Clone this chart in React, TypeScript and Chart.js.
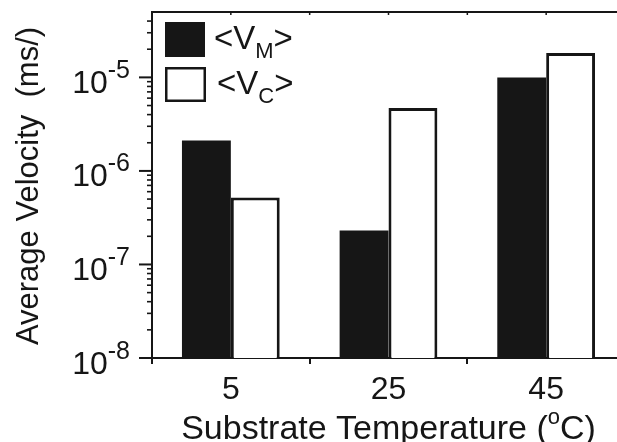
import React, { useEffect, useRef } from "react";
import { Chart, registerables } from "chart.js";

Chart.register(...registerables);

const categories = ["5", "25", "45"];
const vM = [2.12e-6, 2.3e-7, 1.0e-5];
const vC = [5.2e-7, 4.7e-6, 1.82e-5];
const yDecades = [-8, -7, -6, -5];
const yMin = 1e-8;
const yMax = 5e-5;
const xTitle = "Substrate Temperature (";
const yTitle = "Average Velocity  (ms/)";

const INK = "#161616";
const FONT = "'Liberation Sans', Arial, Helvetica, sans-serif";

const drawPlugin = {
  id: "customDraw",
  afterDraw(chart: any) {
    const ctx = chart.ctx as CanvasRenderingContext2D;
    const area = chart.chartArea;
    const xs = chart.scales.x;
    const ys = chart.scales.y;
    ctx.save();
    ctx.strokeStyle = INK;
    ctx.fillStyle = INK;
    ctx.lineWidth = 2;

    // top frame line
    ctx.beginPath();
    ctx.moveTo(area.left - 1, area.top);
    ctx.lineTo(chart.width, area.top);
    ctx.stroke();

    // top small ticks at centres and boundaries
    const half = (xs.getPixelForValue(1) - xs.getPixelForValue(0)) / 2;
    for (let i = 0; i < categories.length; i++) {
      const c = xs.getPixelForValue(i);
      for (const px of [c, c + half]) {
        ctx.beginPath();
        ctx.lineWidth = 1.5;
        ctx.moveTo(px, area.top);
        ctx.lineTo(px, area.top + 3);
        ctx.stroke();
      }
    }

    // y ticks
    ctx.lineWidth = 2;
    for (const e of yDecades) {
      const base = Math.pow(10, e);
      const py = ys.getPixelForValue(base);
      ctx.beginPath();
      ctx.moveTo(area.left - 13, py);
      ctx.lineTo(area.left, py);
      ctx.stroke();
      for (let m = 2; m <= 9; m++) {
        const v = m * base;
        if (v >= yMax) continue;
        const p = ys.getPixelForValue(v);
        ctx.beginPath();
        ctx.lineWidth = 1.6;
        ctx.moveTo(area.left - 5, p);
        ctx.lineTo(area.left, p);
        ctx.stroke();
      }
      ctx.lineWidth = 2;
    }

    // y tick labels
    ctx.textBaseline = "alphabetic";
    for (const e of yDecades) {
      const py = ys.getPixelForValue(Math.pow(10, e));
      const sup = String(e);
      ctx.font = `25px ${FONT}`;
      const ws = ctx.measureText(sup).width;
      ctx.font = `32px ${FONT}`;
      const wm = ctx.measureText("10").width;
      const right = 130;
      ctx.textAlign = "left";
      ctx.fillText("10", right - ws - wm, py + 15.5);
      ctx.font = `25px ${FONT}`;
      ctx.fillText(sup, right - ws, py + 0.5);
    }

    // x tick labels
    ctx.font = `32px ${FONT}`;
    ctx.textAlign = "center";
    for (let i = 0; i < categories.length; i++) {
      ctx.fillText(categories[i], xs.getPixelForValue(i), 399);
    }

    // x title
    {
      ctx.font = `34px ${FONT}`;
      const w1 = ctx.measureText(xTitle).width;
      ctx.font = `22px ${FONT}`;
      const wo = ctx.measureText("o").width;
      ctx.font = `34px ${FONT}`;
      const w2 = ctx.measureText("C)").width;
      const total = w1 + wo + w2;
      const cx = (area.left + area.right) / 2;
      let x0 = cx - total / 2;
      ctx.textAlign = "left";
      ctx.fillText(xTitle, x0, 439);
      x0 += w1;
      ctx.font = `22px ${FONT}`;
      ctx.fillText("o", x0, 424);
      x0 += wo;
      ctx.font = `34px ${FONT}`;
      ctx.fillText("C)", x0, 439);
    }

    // y title
    ctx.save();
    ctx.translate(37.5, 186);
    ctx.rotate(-Math.PI / 2);
    ctx.font = `31px ${FONT}`;
    ctx.textAlign = "center";
    ctx.fillText(yTitle, 0, 0);
    ctx.restore();

    // legend
    ctx.fillStyle = INK;
    ctx.fillRect(165, 22, 40, 35);
    ctx.fillStyle = "#ffffff";
    ctx.fillRect(166, 68, 38, 33);
    ctx.strokeStyle = INK;
    ctx.lineWidth = 2.5;
    ctx.strokeRect(166.25, 68.25, 38.5, 32.5);
    ctx.fillStyle = INK;
    const legendItem = (x: number, base: number, sub: string) => {
      ctx.textAlign = "left";
      ctx.font = `33px ${FONT}`;
      ctx.fillText("<V", x, base);
      let xx = x + ctx.measureText("<V").width;
      ctx.font = `22px ${FONT}`;
      ctx.fillText(sub, xx, base + 9);
      xx += ctx.measureText(sub).width;
      ctx.font = `33px ${FONT}`;
      ctx.fillText(">", xx, base);
    };
    legendItem(214, 49, "M");
    legendItem(217, 94, "C");

    ctx.restore();
  },
};

export default function App() {
  const ref = useRef<HTMLCanvasElement | null>(null);
  useEffect(() => {
    document.body.style.margin = "0";
    const canvas = ref.current!;
    const chart = new Chart(canvas, {
      type: "bar",
      data: {
        labels: categories,
        datasets: [
          {
            label: "<VM>",
            data: vM,
            backgroundColor: INK,
            borderColor: INK,
            borderWidth: 0,
          },
          {
            label: "<VC>",
            data: vC,
            backgroundColor: "#ffffff",
            borderColor: INK,
            borderWidth: 3,
            borderSkipped: "bottom",
          },
        ],
      },
      options: {
        responsive: false,
        animation: false,
        devicePixelRatio: 1,
        layout: { padding: { top: 12, left: 0, right: 0, bottom: 0 } },
        datasets: { bar: { categoryPercentage: 0.62, barPercentage: 1.0 } },
        plugins: {
          legend: { display: false },
          tooltip: { enabled: false },
        },
        scales: {
          x: {
            type: "category",
            offset: true,
            grid: {
              display: true,
              drawOnChartArea: false,
              drawTicks: true,
              tickLength: 6,
              color: INK,
              lineWidth: 2,
              offset: true,
            },
            border: { display: true, color: INK, width: 2 },
            ticks: { display: false },
            afterFit: (s: any) => {
              s.height = 84;
            },
          },
          y: {
            type: "logarithmic",
            min: yMin,
            max: yMax,
            grid: { display: false },
            border: { display: true, color: INK, width: 2 },
            ticks: { display: false },
            afterFit: (s: any) => {
              s.width = 152;
            },
          },
        },
      },
      plugins: [drawPlugin],
    } as any);
    return () => chart.destroy();
  }, []);
  return (
    <div
      style={{
        position: "fixed",
        left: 0,
        top: 0,
        width: 617,
        height: 442,
        overflow: "hidden",
        background: "#fff",
      }}
    >
      <canvas ref={ref} width={625} height={442} style={{ display: "block" }} />
    </div>
  );
}
